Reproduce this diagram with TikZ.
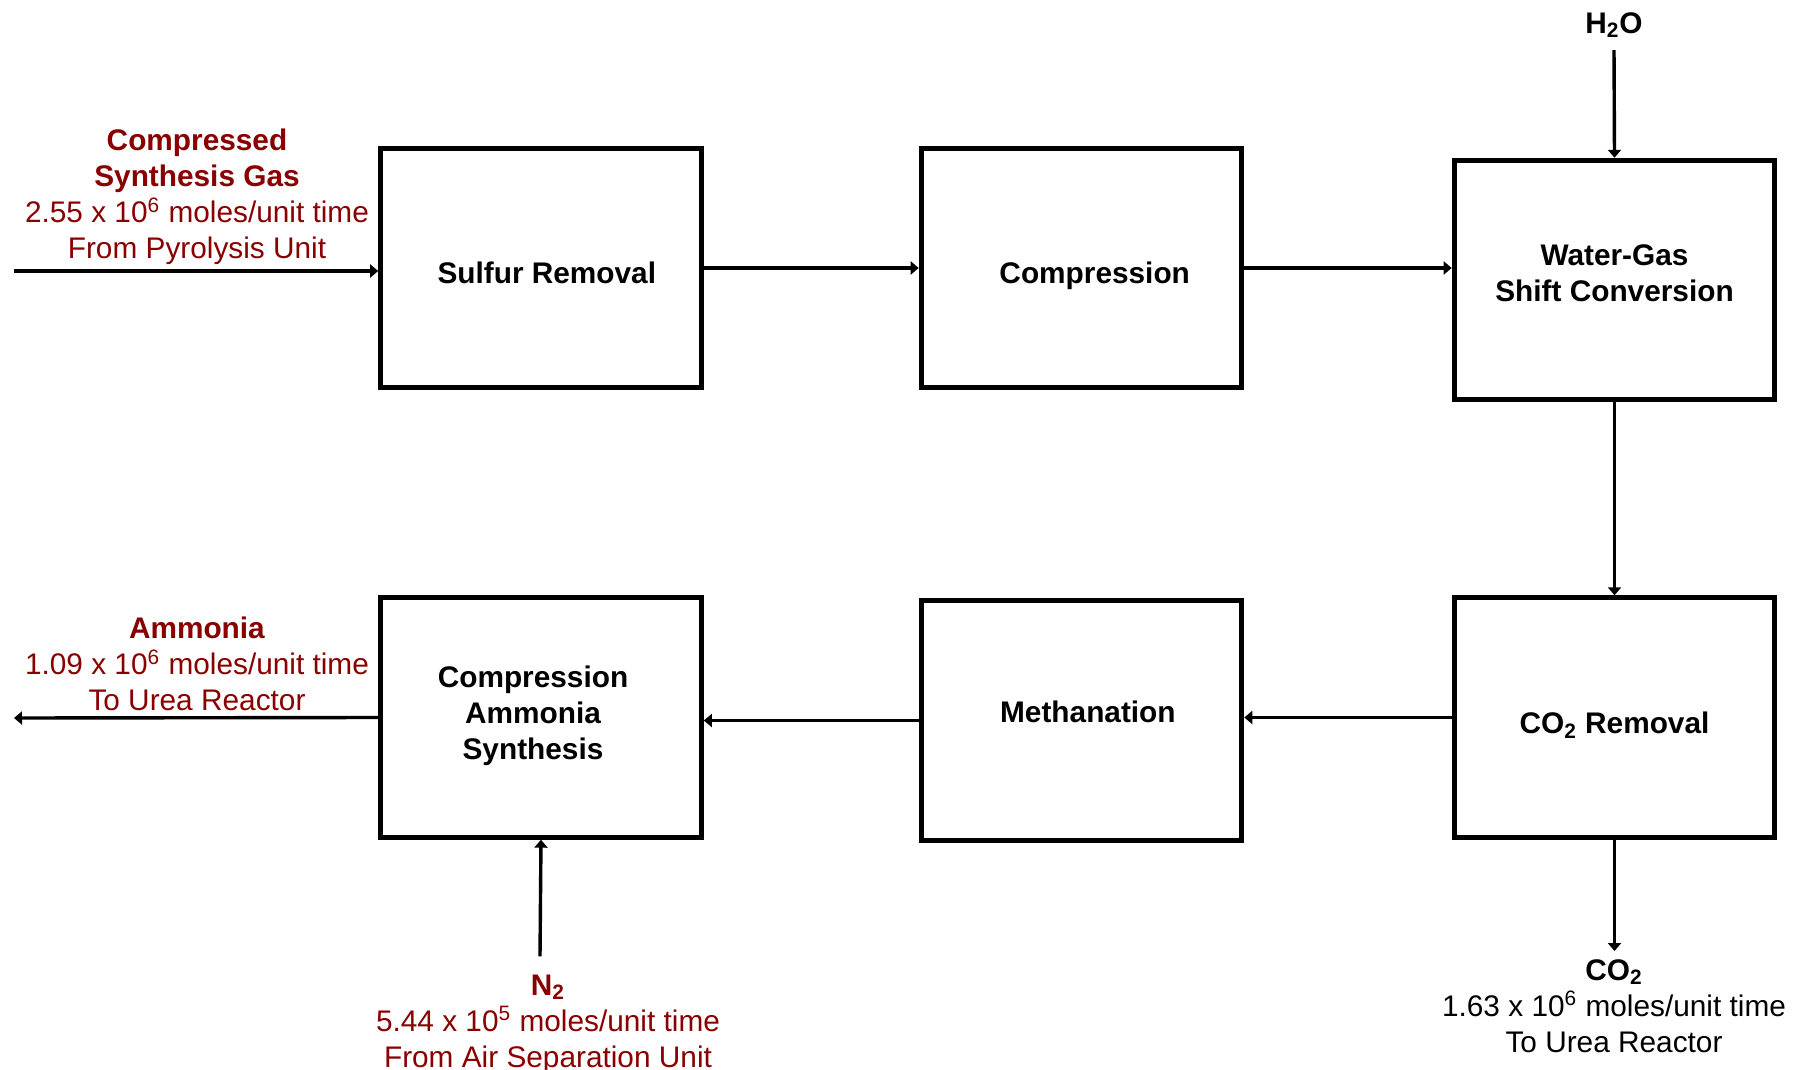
\documentclass[tikz,border=0pt]{standalone}
\usepackage{fontspec}
\setmainfont{Liberation Sans}
\usetikzlibrary{arrows.meta}
\definecolor{dred}{RGB}{137,0,0}
\begin{document}
\begin{tikzpicture}[x=0.5pt,y=-0.5pt,
  box/.style={draw, line width=2.5pt, minimum width=160.3pt, minimum height=119.7pt, inner sep=0pt},
  boxtext/.style={inner sep=0pt, align=center, font=\fontsize{14.9}{18}\selectfont\bfseries},
  lbl/.style={inner sep=0pt, align=center, font=\fontsize{14.9}{18}\selectfont},
  flow/.style={line width=1.7pt, -{Triangle[length=4pt,width=6.5pt]}}]
\useasboundingbox (0,0) rectangle (1805,1070);
% boxes
\node[box, label={[boxtext, xshift=2.9pt, yshift=-2.3pt]center:Sulfur Removal}] (sulfur) at (541,268) {};
\node[box, label={[boxtext, xshift=6.6pt, yshift=-4pt]center:Compression}] (comp) at (1081.5,268) {};
\node[box, label={[boxtext, yshift=3.2pt]center:Water-Gas\\Shift Conversion}] (wgs) at (1614.5,280) {};
\node[box, label={[boxtext, yshift=-3.8pt]center:CO\textsubscript{2} Removal}] (co2r) at (1614.5,717.5) {};
\node[box, label={[boxtext, xshift=3.2pt, yshift=4.3pt]center:Methanation}] (meth) at (1081.5,720.5) {};
\node[box, label={[boxtext, xshift=-4pt, yshift=0.9pt]center:Compression\\Ammonia\\Synthesis}] (ca) at (541,717.5) {};
% labels
\node[lbl, text=dred] (syn) at (197,197) {\textbf{Compressed}\\\textbf{Synthesis Gas}\\2.55 x 10\textsuperscript{6} moles/unit time\\From Pyrolysis Unit};
\node[lbl, font=\fontsize{14.9}{18}\selectfont\bfseries] (h2o) at (1614,25) {H\textsubscript{2}O};
\node[lbl, text=dred] (amm) at (197,664) {\textbf{Ammonia}\\1.09 x 10\textsuperscript{6} moles/unit time\\To Urea Reactor};
\node[lbl, text=dred] (n2) at (548,1024) {\textbf{N\textsubscript{2}}\\5.44 x 10\textsuperscript{5} moles/unit time\\From Air Separation Unit};
\node[lbl] (co2out) at (1614,1006) {\textbf{CO\textsubscript{2}}\\1.63 x 10\textsuperscript{6} moles/unit time\\To Urea Reactor};
\coordinate (in) at (14,271);
\coordinate (out) at (14,718);
% connectors
\draw[flow] (in) -- (in -| sulfur.west);
\draw[flow] (sulfur.east) -- (comp.west);
\draw[flow] (comp.east) -- (comp.east -| wgs.west);
\draw[flow] ([yshift=-6pt]h2o.south) -- (wgs.north);
\draw[flow] (wgs.south) -- (co2r.north);
\draw[flow] (co2r.west) -- (co2r.west -| meth.east);
\draw[flow] (meth.west) -- (meth.west -| ca.east);
\draw[flow] (ca.west) -- (out);
\draw[flow] ([xshift=-0.5pt,yshift=9pt]n2.north -| ca.south) -- (ca.south);
\draw[flow] (co2r.south) -- ([yshift=4pt]co2out.north -| co2r.south);
\end{tikzpicture}
\end{document}
